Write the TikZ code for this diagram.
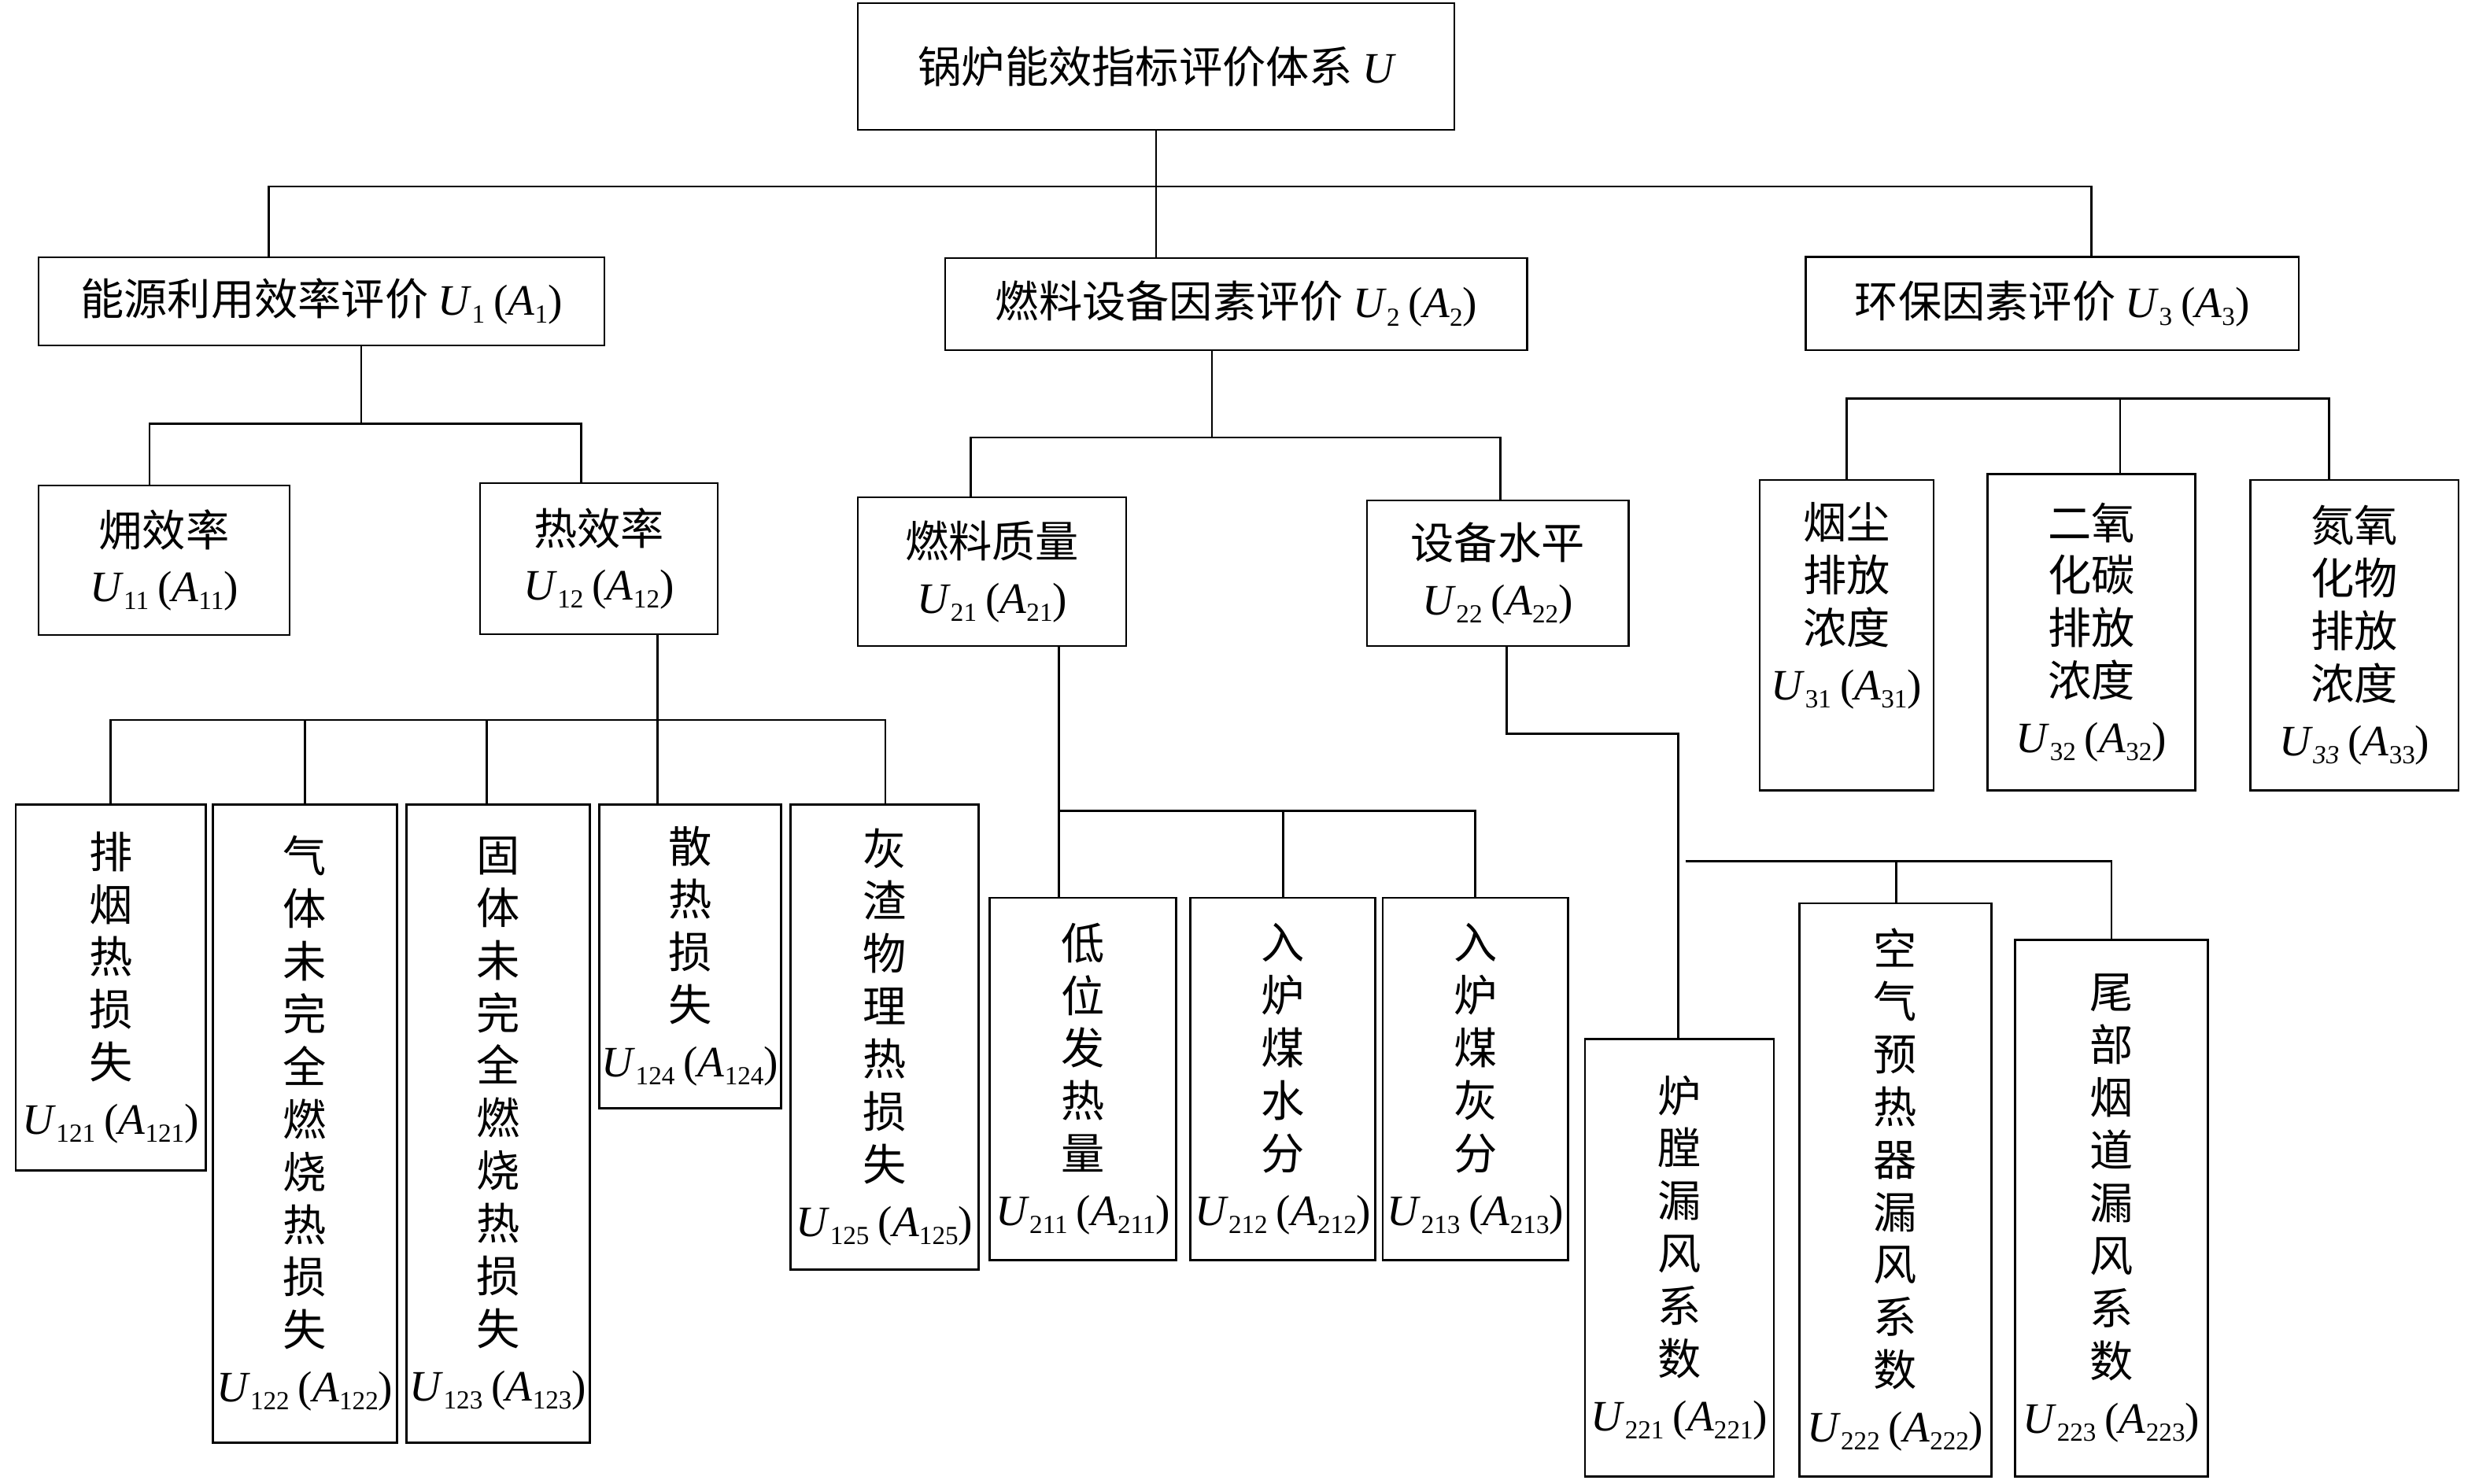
\documentclass[tikz,border=0pt]{standalone}
\usepackage{fontspec}
\setmainfont{Liberation Serif}
\newfontfamily\cjk{Noto Sans CJK SC}
\newcommand\sbsx[1]{\raisebox{-5pt}{\fontsize{16.5}{16.5}\selectfont #1}}
\newcommand\ulab[2]{{\rmfamily\textit{U}\sbsx{#1}\hspace{0.2em}(\textit{A}\sbsx{#2})}}
\tikzset{
  bx/.style={draw, line width=1.4pt, inner sep=0pt, align=center,
    font=\cjk\fontsize{27.5}{33.3}\selectfont},
  ln/.style={line width=1.4pt}
}
\begin{document}
\begin{tikzpicture}[x=1pt,y=-1pt]
\useasboundingbox (0,0) rectangle (1568,938.8);
% level 0
\node[bx, minimum width=377.3, minimum height=80.1] (top) at (731.25,42.05) {锅炉能效指标评价体系 {\rmfamily\itshape U}};
% level 1
\node[bx, minimum width=357.9, minimum height=55.7] (u1) at (203.35,190.65) {能源利用效率评价 \ulab{1}{1}};
\node[bx, minimum width=368.3, minimum height=58.2] (u2) at (781.95,192.4) {燃料设备因素评价 \ulab{2}{2}};
\node[bx, minimum width=312, minimum height=59] (u3) at (1298,192) {环保因素评价 \ulab{3}{3}};
% level 2
\node[bx, minimum width=158.8, minimum height=94.6] (u11) at (103.8,354.4) {㶲效率\\[2pt]\ulab{11}{11}};
\node[bx, minimum width=150.4, minimum height=95.6] (u12) at (378.8,353.4) {热效率\\[2pt]\ulab{12}{12}};
\node[bx, minimum width=169.7, minimum height=94.1] (u21) at (627.45,361.65) {燃料质量\\[2pt]\ulab{21}{21}};
\node[bx, minimum width=165.4, minimum height=92.1] (u22) at (947.3,362.65) {设备水平\\[2pt]\ulab{22}{22}};
\node[bx, minimum width=110, minimum height=196.4] (u31) at (1168,401.8) {烟尘\\排放\\浓度\\[2pt]\ulab{31}{31}\\[10pt]\mbox{}};
\node[bx, minimum width=131.5, minimum height=200] (u32) at (1322.75,400) {二氧\\化碳\\排放\\浓度\\[2pt]\ulab{32}{32}};
\node[bx, minimum width=131.5, minimum height=196.4] (u33) at (1489.25,401.8) {氮氧\\化物\\排放\\浓度\\[2pt]\ulab{\textit{33}}{33}};
% level 3
\node[bx, minimum width=120, minimum height=231.5] (u121) at (70,624.75) {排\\烟\\热\\损\\失\\[2pt]\ulab{121}{121}};
\node[bx, minimum width=116.5, minimum height=403.5] (u122) at (192.75,710.75) {气\\体\\未\\完\\全\\燃\\烧\\热\\损\\失\\[2pt]\ulab{122}{122}};
\node[bx, minimum width=116, minimum height=403.5] (u123) at (315,710.75) {固\\体\\未\\完\\全\\燃\\烧\\热\\损\\失\\[2pt]\ulab{123}{123}};
\node[bx, minimum width=115, minimum height=192] (u124) at (436.5,605) {散\\热\\损\\失\\[2pt]\ulab{124}{124}};
\node[bx, minimum width=119, minimum height=294] (u125) at (559.5,656) {灰\\渣\\物\\理\\热\\损\\失\\[2pt]\ulab{125}{125}};
\node[bx, minimum width=118, minimum height=229] (u211) at (685,682.5) {低\\位\\发\\热\\量\\[2pt]\ulab{211}{211}};
\node[bx, minimum width=117.1, minimum height=229] (u212) at (811.45,682.5) {入\\炉\\煤\\水\\分\\[2pt]\ulab{212}{212}};
\node[bx, minimum width=117.4, minimum height=229] (u213) at (933.3,682.5) {入\\炉\\煤\\灰\\分\\[2pt]\ulab{213}{213}};
\node[bx, minimum width=119.5, minimum height=276.6] (u221) at (1062.25,795.7) {炉\\膛\\漏\\风\\系\\数\\[2pt]\ulab{221}{221}};
\node[bx, minimum width=121.6, minimum height=362.6] (u222) at (1198.8,752.7) {空\\气\\预\\热\\器\\漏\\风\\系\\数\\[2pt]\ulab{222}{222}};
\node[bx, minimum width=122.2, minimum height=339.3] (u223) at (1335.5,764.35) {尾\\部\\烟\\道\\漏\\风\\系\\数\\[2pt]\ulab{223}{223}};
% connectors: top
\coordinate (a1) at (170,118);
\coordinate (a2) at (1323,118);
\draw[ln] (top.south) -- (top.south |- u2.north);
\draw[ln] (a1 |- u1.north) -- (a1) -- (a2) -- (a2 |- u3.north);
% U1
\coordinate (b0) at (228.5,268);
\coordinate (b1) at (94.6,268);
\coordinate (b2) at (367.8,268);
\draw[ln] (b0 |- u1.south) -- (b0);
\draw[ln] (b1 |- u11.north) -- (b1) -- (b2) -- (b2 |- u12.north);
% U12
\coordinate (c0) at (416,455.5);
\coordinate (c1) at (70,455.5);
\coordinate (c2) at (193,455.5);
\coordinate (c3) at (308,455.5);
\coordinate (c5) at (560,455.5);
\draw[ln] (c0 |- u12.south) -- (c0 |- u124.north);
\draw[ln] (c1 |- u121.north) -- (c1) -- (c5) -- (c5 |- u125.north);
\draw[ln] (c2) -- (c2 |- u122.north);
\draw[ln] (c3) -- (c3 |- u123.north);
% U2
\coordinate (d0) at (766.6,276.8);
\coordinate (d1) at (614.2,276.8);
\coordinate (d2) at (949.2,276.8);
\draw[ln] (d0 |- u2.south) -- (d0);
\draw[ln] (d1 |- u21.north) -- (d1) -- (d2) -- (d2 |- u22.north);
% U21
\coordinate (e1) at (669.8,513);
\coordinate (e2) at (811.5,513);
\coordinate (e3) at (933,513);
\draw[ln] (e1 |- u21.south) -- (e1 |- u211.north);
\draw[ln] (e1) -- (e3) -- (e3 |- u213.north);
\draw[ln] (e2) -- (e2 |- u212.north);
% U22
\coordinate (f1) at (953,464);
\coordinate (f2) at (1061.5,464);
\draw[ln] (f1 |- u22.south) -- (f1) -- (f2) -- (f2 |- u221.north);
\coordinate (g1) at (1066,545);
\coordinate (g2) at (1199.3,545);
\coordinate (g3) at (1335.5,545);
\draw[ln] (g1) -- (g3) -- (g3 |- u223.north);
\draw[ln] (g2) -- (g2 |- u222.north);
% U3
\coordinate (h1) at (1168,252);
\coordinate (h2) at (1341,252);
\coordinate (h3) at (1473,252);
\draw[ln] (h1 |- u31.north) -- (h1) -- (h3) -- (h3 |- u33.north);
\draw[ln] (h2) -- (h2 |- u32.north);
\end{tikzpicture}
\end{document}
